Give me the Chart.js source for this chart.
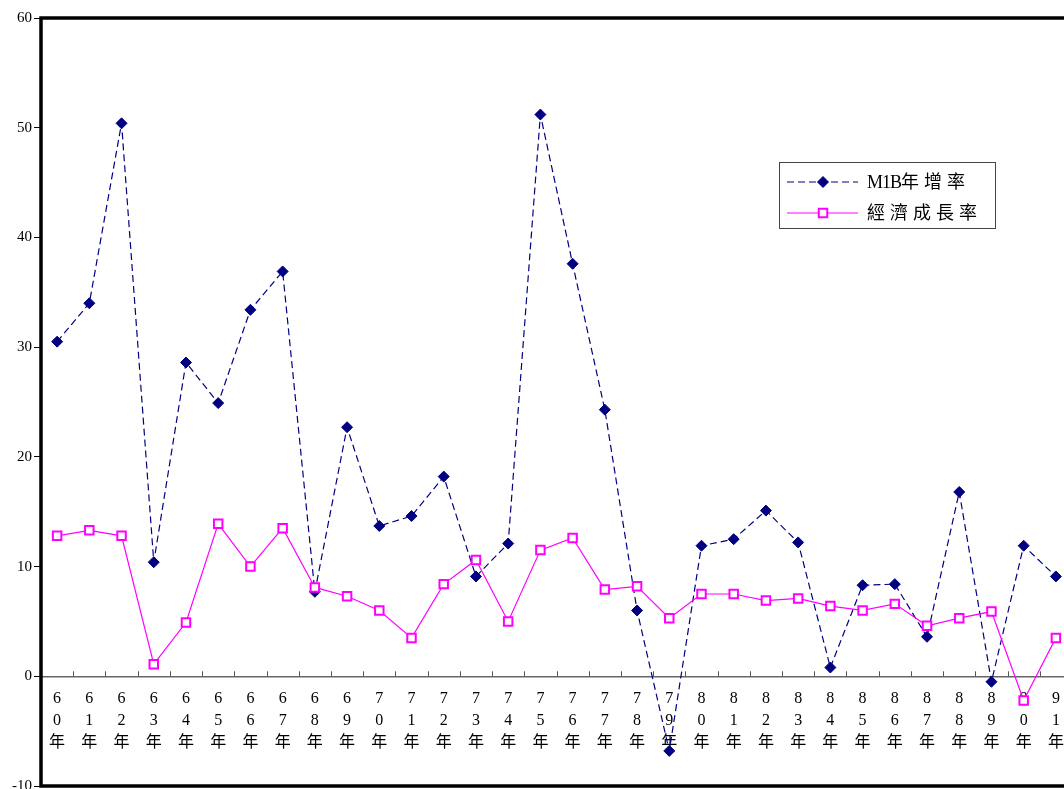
<!DOCTYPE html>
<html>
<head>
<meta charset="utf-8">
<script src="https://cdn.jsdelivr.net/npm/chart.js@4/dist/chart.umd.min.js"></script>
<style>
  html, body { margin: 0; padding: 0; background: #fff; overflow: hidden; }
  #wrap { width: 1080px; height: 794px; }
</style>
</head>
<body>
<div id="wrap"><canvas id="c" width="1080" height="794"></canvas></div>
<script>
// 民國年份
const years = ['60','61','62','63','64','65','66','67','68','69',
               '70','71','72','73','74','75','76','77','78','79',
               '80','81','82','83','84','85','86','87','88','89',
               '90','91'];
// M1B 年增率 (%)
const m1bGrowth = [30.5, 34.0, 50.4, 10.4, 28.6, 24.9, 33.4, 36.9, 7.7, 22.7,
                   13.7, 14.6, 18.2, 9.1, 12.1, 51.2, 37.6, 24.3, 6.0, -6.8,
                   11.9, 12.5, 15.1, 12.2, 0.8, 8.3, 8.4, 3.6, 16.8, -0.5,
                   11.9, 9.1];
// 經濟成長率 (%)
const gdpGrowth = [12.8, 13.3, 12.8, 1.1, 4.9, 13.9, 10.0, 13.5, 8.1, 7.3,
                   6.0, 3.5, 8.4, 10.6, 5.0, 11.5, 12.6, 7.9, 8.2, 5.3,
                   7.5, 7.5, 6.9, 7.1, 6.4, 6.0, 6.6, 4.6, 5.3, 5.9,
                   -2.2, 3.5];
const yTicks = [-10, 0, 10, 20, 30, 40, 50, 60];
const seriesNames = ['M1B年增率', '經濟成長率'];

// each year label is stacked vertically: tens digit, units digit, 年
const stackedLabels = years.map(y => [y[0], y[1], '年']);

const SERIF = '"Liberation Serif", "Times New Roman", "Noto Sans CJK TC", serif';

// thick black frame around the plot area plus upward tick marks on the zero line
const framePlugin = {
  id: 'frame',
  afterDraw(chart) {
    const ctx = chart.ctx, a = chart.chartArea;
    const xs = chart.scales.x, ys = chart.scales.y;
    const y0 = ys.getPixelForValue(0);
    ctx.save();
    ctx.strokeStyle = '#555';
    ctx.lineWidth = 1;
    ctx.beginPath();
    for (let i = 1; i < chart.data.labels.length; i++) {
      const b = Math.round((xs.getPixelForValue(i - 1) + xs.getPixelForValue(i)) / 2) + 0.5;
      ctx.moveTo(b, y0);
      ctx.lineTo(b, y0 - 5);
    }
    ctx.stroke();
    ctx.strokeStyle = '#000';
    ctx.lineWidth = 3.5;
    ctx.strokeRect(a.left, a.top, a.right - a.left, a.bottom - a.top);
    ctx.restore();
  }
};

// boxed legend inside the plot area
const legendPlugin = {
  id: 'boxLegend',
  afterDraw(chart) {
    const ctx = chart.ctx;
    const bx = 779.5, by = 162.5, bw = 216, bh = 66;
    ctx.save();
    ctx.fillStyle = '#fff';
    ctx.fillRect(bx, by, bw, bh);
    ctx.strokeStyle = '#444';
    ctx.lineWidth = 1;
    ctx.strokeRect(bx, by, bw, bh);
    const rows = [182, 213];
    chart.data.datasets.forEach((ds, i) => {
      const ry = rows[i];
      ctx.save();
      ctx.strokeStyle = ds.borderColor;
      ctx.lineWidth = ds.borderWidth;
      ctx.setLineDash(ds.borderDash || []);
      ctx.beginPath();
      ctx.moveTo(787, ry);
      ctx.lineTo(858, ry);
      ctx.stroke();
      ctx.setLineDash([]);
      ctx.fillStyle = ds.pointBackgroundColor;
      ctx.strokeStyle = ds.pointBorderColor;
      ctx.lineWidth = ds.pointBorderWidth;
      Chart.helpers.drawPoint(ctx, {
        pointStyle: ds.pointStyle, radius: ds.pointRadius,
        borderWidth: ds.pointBorderWidth, rotation: 0
      }, 823, ry);
      ctx.restore();
      // label text: latin characters at natural width, CJK characters on a wider pitch
      ctx.fillStyle = '#000';
      ctx.font = '18px ' + SERIF;
      ctx.textBaseline = 'middle';
      ctx.textAlign = 'left';
      let tx = 867;
      for (const ch of ds.label) {
        ctx.fillText(ch, tx, ry + 1);
        tx += /[\u3000-\u9fff]/.test(ch) ? 23 : ctx.measureText(ch).width - 1;
      }
    });
    ctx.restore();
  }
};

new Chart(document.getElementById('c'), {
  type: 'line',
  data: {
    labels: stackedLabels,
    datasets: [
      {
        label: seriesNames[0],
        data: m1bGrowth,
        order: 1,
        borderColor: '#000080',
        borderWidth: 1.2,
        borderDash: [7, 4],
        pointStyle: 'rectRot',
        pointRadius: 5.5,
        pointBackgroundColor: '#000080',
        pointBorderColor: '#000080',
        pointBorderWidth: 1,
        tension: 0,
        fill: false
      },
      {
        label: seriesNames[1],
        data: gdpGrowth,
        order: 0,
        borderColor: '#ff00ff',
        borderWidth: 1.2,
        pointStyle: 'rect',
        pointRadius: 6,
        pointBackgroundColor: '#ffffff',
        pointBorderColor: '#ff00ff',
        pointBorderWidth: 2,
        tension: 0,
        fill: false
      }
    ]
  },
  options: {
    responsive: false,
    animation: false,
    events: [],
    layout: { padding: { top: 18, right: 5, bottom: 0, left: 0 } },
    plugins: { legend: { display: false }, tooltip: { enabled: false } },
    scales: {
      x: {
        type: 'category',
        offset: true,
        position: { y: 0 },
        grid: { drawOnChartArea: false, drawTicks: false, offset: true },
        border: { color: '#666', width: 1.5 },
        ticks: {
          autoSkip: false, maxRotation: 0, minRotation: 0, padding: 11,
          color: '#000', font: { family: SERIF, size: 16, lineHeight: 1.4 }
        }
      },
      y: {
        min: -10, max: 60,
        afterBuildTicks(s) { s.ticks = yTicks.map(v => ({ value: v })); },
        afterFit(s) { s.width = 41; s.paddingTop = 0; s.paddingBottom = 0; },
        grid: { drawOnChartArea: false, drawTicks: true, tickLength: 7, color: '#000', lineWidth: 1 },
        border: { display: false },
        ticks: { color: '#000', padding: 2, font: { family: SERIF, size: 15 } }
      }
    }
  },
  plugins: [framePlugin, legendPlugin]
});
</script>
</body>
</html>
